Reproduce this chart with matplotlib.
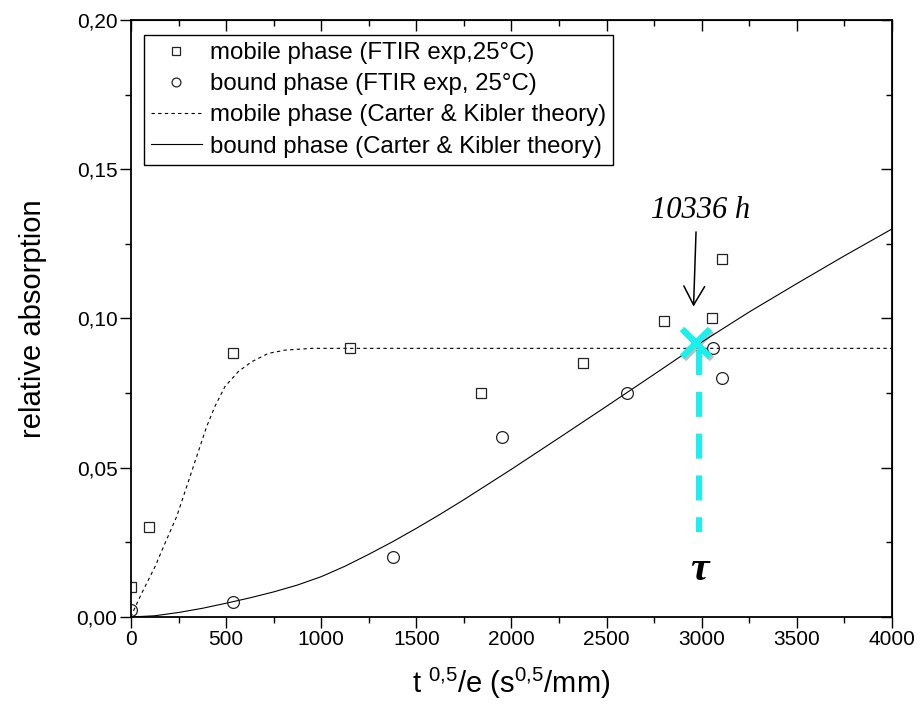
import numpy as np
import matplotlib
matplotlib.use('Agg')
import matplotlib.pyplot as plt
import matplotlib.patheffects as pe
from matplotlib.ticker import MultipleLocator, FuncFormatter

plt.rcParams['font.family'] = ['Liberation Sans', 'DejaVu Sans']
plt.rcParams['mathtext.fontset'] = 'custom'
plt.rcParams['mathtext.rm'] = 'Liberation Serif'
plt.rcParams['mathtext.sf'] = 'Liberation Sans'

# FTIR data, 25 C
mob_x = [0, 96, 538, 1150, 1840, 2374, 2803, 3056, 3105]
mob_y = [0.0102, 0.0303, 0.0883, 0.0901, 0.0751, 0.0850, 0.0992, 0.1003, 0.1201]
bnd_x = [0, 538, 1379, 1948, 2605, 3057, 3105]
bnd_y = [0.0023, 0.0051, 0.0202, 0.0602, 0.0751, 0.0900, 0.0800]

# Carter & Kibler curves
th_mob_x = [0, 7, 56, 126, 179, 240, 293, 345, 398, 441, 494, 564, 634, 722, 809, 950, 4000]
th_mob_y = [0, 0.0012, 0.0079, 0.0168, 0.0247, 0.0336, 0.0437, 0.0537, 0.0638, 0.0705,
            0.0772, 0.0822, 0.0855, 0.0883, 0.0894, 0.0900, 0.0900]
th_bnd_x = [0, 125, 250, 375, 500, 625, 750, 875, 1000, 1125, 1250, 1375, 1500, 1625,
            1750, 2000, 2250, 2500, 2750, 3000, 3250, 3500, 3750, 4000]
th_bnd_y = [0, 0.0004, 0.0015, 0.0029, 0.0046, 0.0064, 0.0084, 0.0107, 0.0135, 0.0170,
            0.0210, 0.0252, 0.0297, 0.0344, 0.0393, 0.0495, 0.0600, 0.0706, 0.0813,
            0.0921, 0.1022, 0.1117, 0.1210, 0.1300]

tau_x, tau_y = 2970, 0.0917
tau_line_x = 2987
tau_line_y = [0.0895, 0.0285]
arrow_from = (2970, 0.129)
arrow_to = (2957, 0.104)
label_h = '10336 h'

fig = plt.figure(figsize=(9.21, 7.15), dpi=100)
ax = fig.add_axes([0.1422, 0.1371, 0.8263, 0.8349])

ax.plot(th_mob_x, th_mob_y, c='k', lw=0.8, ls=(0, (3, 3)),
        label='mobile phase (Carter & Kibler theory)')
ax.plot(th_bnd_x, th_bnd_y, c='k', lw=0.8,
        label='bound phase (Carter & Kibler theory)')
ax.plot(mob_x, mob_y, ls='none', marker='s', ms=7, mfc='none', mec='#222222', mew=0.9,
        label='mobile phase (FTIR exp,25°C)')
ax.plot(bnd_x, bnd_y, ls='none', marker='o', ms=8.5, mfc='none', mec='#222222', mew=0.9,
        label='bound phase (FTIR exp, 25°C)')

# tau marker: dashed drop line and cross
ax.plot([tau_line_x, tau_line_x], tau_line_y, c='#19f0f0', lw=4.3,
        dashes=(4.2, 2.8), zorder=5)
shadow = [pe.SimpleLineShadow(offset=(1.5, -1.5), alpha=0.25), pe.Normal()]
ax.plot([tau_x], [tau_y], marker='x', ms=20, mew=4.5, c='#19f0f0',
        path_effects=shadow, zorder=6)

ax.annotate('', xy=arrow_to, xytext=arrow_from,
            arrowprops=dict(arrowstyle='->,head_length=0.45,head_width=0.25',
                            lw=1.1, color='k', mutation_scale=30, shrinkA=0, shrinkB=0))
ax.text(2995, 0.1363, label_h, family='Liberation Serif', style='italic', size=22,
        ha='center', va='center')
ax.text(2990, 0.0157, 'τ', family='Liberation Serif', style='italic', weight='bold',
        size=30, ha='center', va='center')

ax.set_xlim(0, 4000)
ax.set_ylim(0, 0.20)
ax.xaxis.set_major_locator(MultipleLocator(500))
ax.xaxis.set_minor_locator(MultipleLocator(250))
ax.yaxis.set_major_locator(MultipleLocator(0.05))
ax.yaxis.set_minor_locator(MultipleLocator(0.025))
ax.yaxis.set_major_formatter(FuncFormatter(lambda v, p: f'{v:.2f}'.replace('.', ',')))
ax.tick_params(which='major', direction='out', length=7.7, width=1, labelsize=15, pad=2)
ax.tick_params(which='minor', direction='out', length=4, width=1)
for s in ax.spines.values():
    s.set_linewidth(1.3)

top = ax.secondary_xaxis('top')
top.xaxis.set_major_locator(MultipleLocator(500))
top.xaxis.set_minor_locator(MultipleLocator(250))
top.tick_params(which='major', direction='in', length=7.7, width=1, labeltop=False)
top.tick_params(which='minor', direction='in', length=4, width=1)
right = ax.secondary_yaxis('right')
right.yaxis.set_major_locator(MultipleLocator(0.05))
right.yaxis.set_minor_locator(MultipleLocator(0.025))
right.tick_params(which='major', direction='in', length=7.7, width=1, labelright=False)
right.tick_params(which='minor', direction='in', length=4, width=1)

ax.set_xlabel(r't $\mathsf{^{0{,}5}}$/e (s$\mathsf{^{0{,}5}}$/mm)', fontsize=21)
ax.set_ylabel('relative absorption', fontsize=21)
ax.xaxis.label.set_va('center')
ax.yaxis.label.set_va('center')
ax.xaxis.set_label_coords(0.5, -0.111)
ax.yaxis.set_label_coords(-0.1286, 0.5)

h, l = ax.get_legend_handles_labels()
order = [2, 3, 0, 1]
leg = ax.legend([h[i] for i in order], [l[i] for i in order], loc='upper left',
                bbox_to_anchor=(0.017, 0.975), fontsize=17.3, frameon=True, fancybox=False,
                edgecolor='k', framealpha=1, borderpad=0.3, labelspacing=0.38,
                handlelength=2.1, handletextpad=0.35, borderaxespad=0, markerscale=0.75)
leg.get_frame().set_linewidth(1)

fig.savefig('out.png', dpi=100)
